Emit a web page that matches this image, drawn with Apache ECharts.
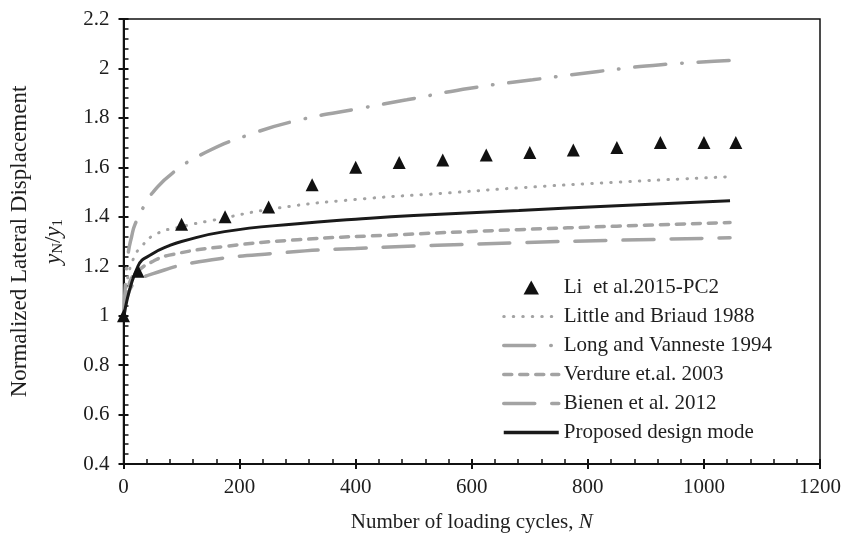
<!DOCTYPE html>
<html>
<head>
<meta charset="utf-8">
<script src="https://cdn.jsdelivr.net/npm/echarts@6/dist/echarts.min.js"></script>
<style>
  html, body { margin: 0; padding: 0; background: #fff; }
  #main { width: 856px; height: 538px; }
</style>
</head>
<body>
<div id="main"></div>
<script>
// measured points (Li et al. 2015, PC2)
var liN = [0, 25, 100, 175, 250, 325, 400, 475, 550, 625, 700, 775, 850, 925, 1000, 1055];
var liY = [1.0, 1.18, 1.37, 1.40, 1.44, 1.53, 1.60, 1.62, 1.63, 1.65, 1.66, 1.67, 1.68, 1.70, 1.70, 1.70];

// Little and Briaud 1988
var briaudN = [1, 5, 17, 31, 56, 100, 152, 265, 400, 550, 681, 850, 1045];
var briaudY = [1.0, 1.12, 1.23, 1.28, 1.33, 1.36, 1.385, 1.435, 1.47, 1.495, 1.517, 1.54, 1.562];

// Long and Vanneste 1994
var longN = [1, 3, 8, 14, 20, 37, 51, 85, 141, 214, 300, 400, 488, 597, 705, 818, 926, 1045];
var longY = [1.0, 1.12, 1.25, 1.32, 1.37, 1.45, 1.50, 1.578, 1.66, 1.73, 1.79, 1.835, 1.873, 1.92, 1.954, 1.988, 2.015, 2.032];

// Verdure et al. 2003
var verdureN = [1, 10, 25, 51, 79, 174, 300, 450, 681, 850, 1045];
var verdureY = [1.0, 1.13, 1.18, 1.22, 1.245, 1.28, 1.307, 1.325, 1.348, 1.362, 1.377];

// Bienen et al. 2012
var bienenN = [1, 10, 25, 51, 130, 276, 400, 681, 850, 1045];
var bienenY = [1.0, 1.1, 1.14, 1.17, 1.218, 1.255, 1.272, 1.295, 1.305, 1.315];

// Proposed design model
var propN = [1, 25, 50, 79, 100, 174, 300, 400, 500, 681, 850, 1045];
var propY = [1.0, 1.2, 1.25, 1.283, 1.30, 1.34, 1.372, 1.39, 1.405, 1.425, 1.445, 1.465];

var xTicks = { min: 0, max: 1200, interval: 200 };
var yTicks = { min: 0.4, max: 2.2, interval: 0.2 };

function pairs(xs, ys) {
  return xs.map(function (x, i) { return [x, ys[i]]; });
}

var font = 'Liberation Serif';
var gray = '#a3a3a3';
var ink = '#1e1e1e';

var chart = echarts.init(document.getElementById('main'));

var baseAxisX = {
  type: 'value', min: xTicks.min, max: xTicks.max, interval: xTicks.interval,
  splitLine: { show: false }
};
var baseAxisY = {
  type: 'value', min: yTicks.min, max: yTicks.max, interval: yTicks.interval,
  splitLine: { show: false }
};
var noSym = { opacity: 0 };

chart.setOption({
  animation: false,
  backgroundColor: '#fff',
  grid: {
    left: 110, right: 36, top: 19, bottom: 73,
    show: true, borderColor: '#111', borderWidth: 1.5
  },
  legend: {
    orient: 'vertical',
    left: 502, top: 277, padding: 0,
    itemWidth: 55, itemHeight: 14, itemGap: 8,
    symbolKeepAspect: true,
    textStyle: { fontFamily: font, fontSize: 21, color: ink, lineHeight: 21 },
    data: [
      { name: 'Li  et al.2015-PC2', icon: 'path://M0,10 L5.5,0 L11,10 Z' },
      { name: 'Little and Briaud 1988', itemStyle: noSym, lineStyle: { width: 3 } },
      { name: 'Long and Vanneste 1994', itemStyle: noSym, lineStyle: { width: 3.5 } },
      { name: 'Verdure et.al. 2003', itemStyle: noSym, lineStyle: { width: 3.5 } },
      { name: 'Bienen et al. 2012', itemStyle: noSym, lineStyle: { width: 3.5 } },
      { name: 'Proposed design mode', itemStyle: noSym, lineStyle: { width: 3.5 } }
    ]
  },
  xAxis: [
    Object.assign({}, baseAxisX, {
      name: '{t|Number of loading cycles, }{i|N}',
      nameLocation: 'middle', nameGap: 48,
      nameTextStyle: {
        rich: {
          t: { fontFamily: font, fontSize: 21, color: ink },
          i: { fontFamily: font, fontSize: 21, fontStyle: 'italic', color: ink }
        }
      },
      axisLine: { onZero: false, lineStyle: { color: '#111', width: 2 } },
      axisTick: { inside: false, length: 5, lineStyle: { color: '#111', width: 2 } },
      axisLabel: {
        fontFamily: font, fontSize: 21, color: ink, margin: 13,
        formatter: function (v) { return String(v); }
      }
    }),
    Object.assign({}, baseAxisX, {
      position: 'bottom',
      axisLine: { show: false },
      axisLabel: { show: false },
      axisTick: { inside: true, length: 5, lineStyle: { color: '#111', width: 2 } },
      minorTick: { show: true, splitNumber: 5, length: 5, lineStyle: { color: '#111', width: 1.5 } }
    })
  ],
  yAxis: [
    Object.assign({}, baseAxisY, {
      name: '{t|Normalized Lateral Displacement}\n{i|y}{s|N}{t|/}{i|y}{s|1}',
      nameLocation: 'middle', nameGap: 53, nameRotate: 90,
      nameTextStyle: {
        align: 'center',
        rich: {
          t: { fontFamily: font, fontSize: 23, color: ink, lineHeight: 34 },
          i: { fontFamily: font, fontSize: 23, fontStyle: 'italic', color: ink, lineHeight: 34 },
          s: { fontFamily: font, fontSize: 15, color: ink, lineHeight: 34, padding: [10, 0, 0, 0] }
        }
      },
      axisLine: { onZero: false, lineStyle: { color: '#111', width: 2 } },
      axisTick: { inside: false, length: 5, lineStyle: { color: '#111', width: 2 } },
      axisLabel: {
        fontFamily: font, fontSize: 21, color: ink, margin: 14,
        formatter: function (v) { return String(Math.round(v * 10) / 10); }
      }
    }),
    Object.assign({}, baseAxisY, {
      position: 'left',
      axisLine: { show: false },
      axisLabel: { show: false },
      axisTick: { inside: true, length: 5, lineStyle: { color: '#111', width: 2 } },
      minorTick: { show: true, splitNumber: 5, length: 5, lineStyle: { color: '#111', width: 1.5 } }
    })
  ],
  series: [
    {
      name: 'Long and Vanneste 1994', type: 'line', smooth: true, showSymbol: false, symbol: 'none',
      lineStyle: { color: gray, width: 3.5, type: [31, 16, 0.5, 16], cap: 'round' },
      itemStyle: { color: gray },
      data: pairs(longN, longY)
    },
    {
      name: 'Little and Briaud 1988', type: 'line', smooth: true, showSymbol: false, symbol: 'none',
      lineStyle: { color: gray, width: 3, type: [0.5, 9], cap: 'round' },
      itemStyle: { color: gray },
      data: pairs(briaudN, briaudY)
    },
    {
      name: 'Verdure et.al. 2003', type: 'line', smooth: true, showSymbol: false, symbol: 'none',
      lineStyle: { color: gray, width: 3.5, type: [8, 8], cap: 'round' },
      itemStyle: { color: gray },
      data: pairs(verdureN, verdureY)
    },
    {
      name: 'Bienen et al. 2012', type: 'line', smooth: true, showSymbol: false, symbol: 'none',
      lineStyle: { color: gray, width: 3.5, type: [31, 17], cap: 'round' },
      itemStyle: { color: gray },
      data: pairs(bienenN, bienenY)
    },
    {
      name: 'Proposed design mode', type: 'line', smooth: true, showSymbol: false, symbol: 'none',
      lineStyle: { color: '#1a1a1a', width: 3 },
      itemStyle: { color: '#1a1a1a' },
      data: pairs(propN, propY)
    },
    {
      name: 'Li  et al.2015-PC2', type: 'scatter', symbol: 'triangle', symbolSize: 13,
      itemStyle: { color: '#111', opacity: 1 },
      z: 5,
      data: pairs(liN, liY)
    }
  ]
});
</script>
</body>
</html>
